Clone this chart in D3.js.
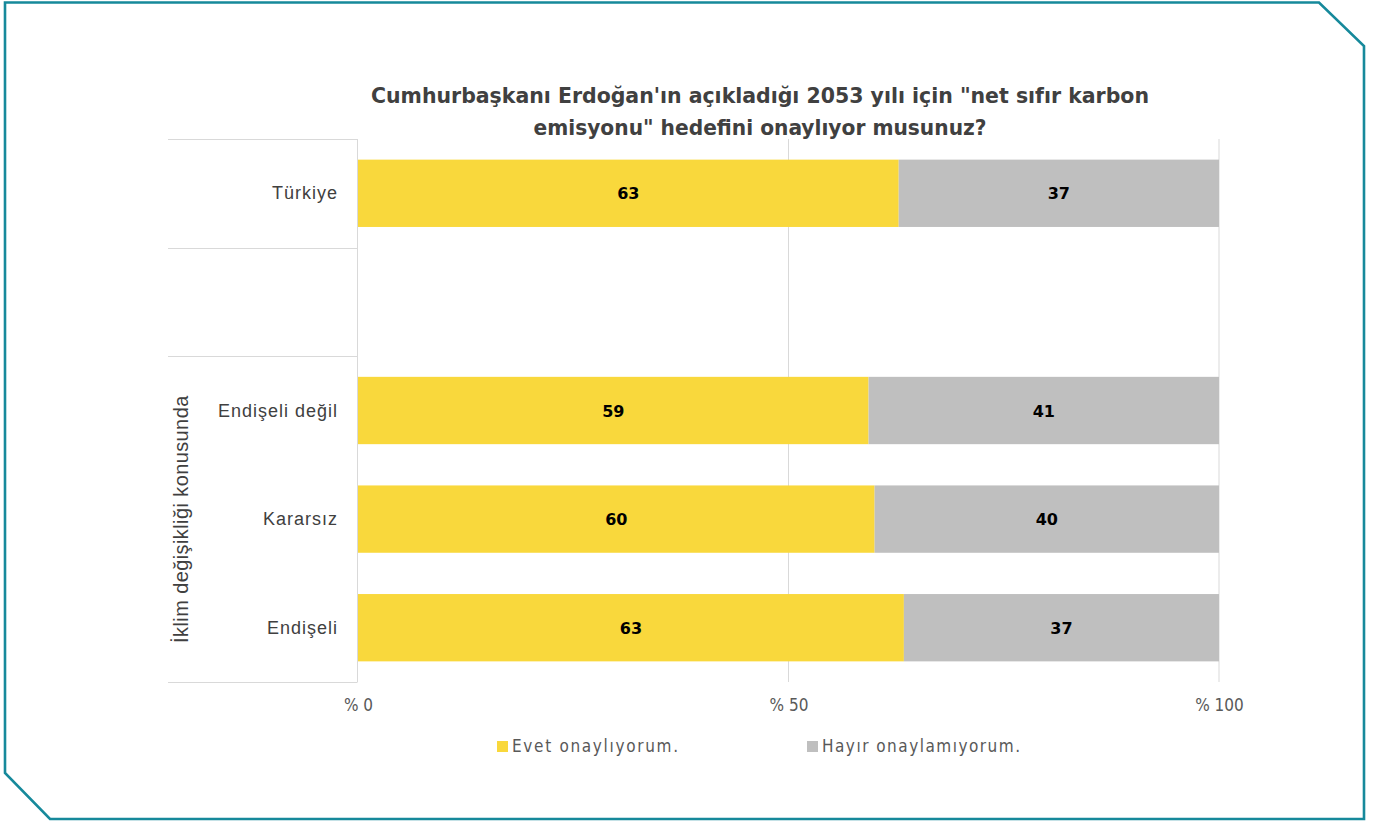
<!DOCTYPE html>
<html><head><meta charset="utf-8">
<script src="https://cdn.jsdelivr.net/npm/d3@7"></script>
<style>body{margin:0;background:#fff}svg{display:block}</style>
</head><body>
<svg id="c" width="1379" height="821"></svg>
<script>
const categories = ["Türkiye", "", "Endişeli değil", "Kararsız", "Endişeli"];
const yesValues = [62.8, null, 59.3, 60.0, 63.4];
const noValues = [37.2, null, 40.7, 40.0, 36.6];
const seriesNames = ["Evet onaylıyorum.", "Hayır onaylamıyorum."];
const xTicks = [0, 50, 100];
const groupLabel = "İklim değişikliği konusunda";
const titleLines = ["Cumhurbaşkanı Erdoğan'ın açıkladığı 2053 yılı için \"net sıfır karbon", "emisyonu\" hedefini onaylıyor musunuz?"];

const svg = d3.select("#c");
const narrow = "'Liberation Sans Narrow','Arial Narrow','DejaVu Sans Condensed',sans-serif";
const sans = "'Liberation Sans',Arial,sans-serif";

// frame
svg.append("path")
  .attr("d", "M5,2.5 L1319,2.5 L1364,46 L1364,819 L50,819 L5,773 Z")
  .attr("fill", "none").attr("stroke", "#16899b").attr("stroke-width", 2.6);

const x = d3.scaleLinear().domain([0, 100]).range([358, 1219]);
const y = d3.scaleBand().domain(d3.range(categories.length)).range([139, 682]).paddingInner(0.38).paddingOuter(0.19);

// gridlines
svg.append("g").selectAll("line").data(xTicks.slice(1)).join("line")
  .attr("x1", d => x(d)).attr("x2", d => x(d)).attr("y1", 139).attr("y2", 682)
  .attr("stroke", "#d9d9d9").attr("stroke-width", 1);

// category table lines
const g2 = svg.append("g").attr("stroke", "#d9d9d9").attr("stroke-width", 1);
g2.append("line").attr("x1", 357.5).attr("x2", 357.5).attr("y1", 139).attr("y2", 682);
const step = y.step();
const bandTop = i => y(i) - (step - y.bandwidth()) / 2;
[0, 1, 2].forEach(i => g2.append("line").attr("x1", 168).attr("x2", 357.5).attr("y1", Math.round(bandTop(i)) + 0.5).attr("y2", Math.round(bandTop(i)) + 0.5));
g2.append("line").attr("x1", 168).attr("x2", 357.5).attr("y1", 682.5).attr("y2", 682.5);

// bars
const rows = categories.map((c, i) => ({c, i, yes: yesValues[i], no: noValues[i]})).filter(d => d.yes != null);
const bars = svg.append("g");
bars.selectAll("rect.yes").data(rows).join("rect").attr("class", "yes")
  .attr("x", x(0)).attr("y", d => y(d.i)).attr("height", y.bandwidth())
  .attr("width", d => x(d.yes) - x(0)).attr("fill", "#f9d83c");
bars.selectAll("rect.no").data(rows).join("rect").attr("class", "no")
  .attr("x", d => x(d.yes)).attr("y", d => y(d.i)).attr("height", y.bandwidth())
  .attr("width", d => x(d.yes + d.no) - x(d.yes)).attr("fill", "#bfbfbf");

const fmt = d3.format(".0f");
const lbl = svg.append("g").attr("font-family", "'DejaVu Sans',sans-serif").attr("font-weight", "bold")
  .attr("font-size", 16).attr("fill", "#000").attr("text-anchor", "middle");
lbl.selectAll("text.y").data(rows).join("text")
  .attr("x", d => (x(0) + x(d.yes)) / 2).attr("y", d => y(d.i) + y.bandwidth() / 2 + 6).text(d => fmt(d.yes));
lbl.selectAll("text.n").data(rows).join("text")
  .attr("x", d => (x(d.yes) + x(d.yes + d.no)) / 2).attr("y", d => y(d.i) + y.bandwidth() / 2 + 6).text(d => fmt(d.no));

// category labels
svg.append("g").selectAll("text").data(rows).join("text")
  .attr("x", 338).attr("y", d => y(d.i) + y.bandwidth() / 2 + 6)
  .attr("text-anchor", "end").attr("font-family", sans).attr("font-size", 18).attr("letter-spacing", 1)
  .attr("fill", "#404040").text(d => d.c);

// group label
svg.append("text").attr("transform", `translate(188,${(bandTop(2) + 682) / 2}) rotate(-90)`)
  .attr("text-anchor", "middle").attr("font-family", sans).attr("font-size", 20).attr("letter-spacing", 0.4)
  .attr("fill", "#404040").text(groupLabel);

// x axis
const xAxis = d3.axisBottom(x).tickValues(xTicks).tickSize(0).tickFormat(d => "% " + d);
const ax = svg.append("g").attr("transform", "translate(0,682)").call(xAxis);
ax.select(".domain").remove();
ax.selectAll("text").attr("font-family", narrow).attr("font-size", 17).attr("fill", "#595959").attr("dy", 0).attr("y", 29);

// title
const t = svg.append("text").attr("text-anchor", "middle").attr("font-family", narrow)
  .attr("font-weight", "bold").attr("font-size", 22).attr("fill", "#404040");
titleLines.forEach((l, i) => t.append("tspan").attr("x", 760).attr("y", 103 + i * 32).text(l));
const widths = [778, 453];
t.selectAll("tspan").each(function(d, i) {
  d3.select(this).attr("textLength", widths[i]).attr("lengthAdjust", "spacingAndGlyphs");
});

// legend
const colors = ["#f9d83c", "#bfbfbf"];
const legX = [497, 807];
const legW = [166, 198];
const leg = svg.append("g");
seriesNames.forEach((s, i) => {
  leg.append("rect").attr("x", legX[i]).attr("y", 741).attr("width", 11).attr("height", 11).attr("fill", colors[i]);
  leg.append("text").attr("x", legX[i] + 15).attr("y", 752).attr("font-family", narrow).attr("font-size", 17)
    .attr("textLength", legW[i]).attr("lengthAdjust", "spacing")
    .attr("fill", "#595959").text(s);
});
</script>
</body></html>
